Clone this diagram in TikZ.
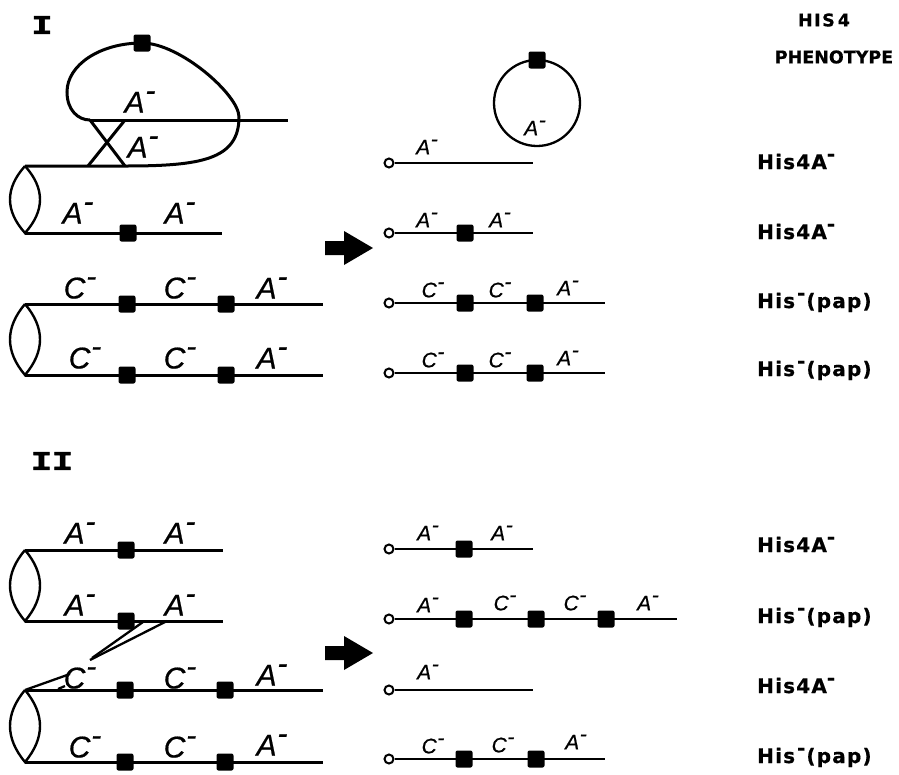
\documentclass[tikz,border=0pt]{standalone}
\usepackage{fontspec}
\setmainfont{Liberation Sans}
\newfontfamily\numfont[FakeBold=1.5]{Liberation Mono Bold}
\newfontfamily\genefont[FakeBold=0.6]{Liberation Sans Italic}
\newfontfamily\phenfont[LetterSpace=6,FakeBold=0.6]{DejaVu Sans Bold}
\newfontfamily\headfont[FakeBold=0.6]{DejaVu Sans Bold}
% allele label with a raised minus sign
\newcommand\mut[1]{#1\kern0.03em\raisebox{0.40em}{-}}
% raised minus used in the phenotype column
\newcommand\phmin{\raisebox{0.40em}{-}}
% lens-shaped centromere joining two sister chromatids
\newcommand\centro[2]{%
  \draw[lens] (25,#1) .. controls (5,{#1+(#2-#1)/3}) and (5,{#2-(#2-#1)/3}) .. (25,#2)
    .. controls (45,{#2-(#2-#1)/3}) and (45,{#1+(#2-#1)/3}) .. (25,#1);}
% thick block arrow pointing right, centred vertically on #1
\newcommand\blockarrow[1]{%
  \fill (325,{#1-7}) -- (344,{#1-7}) -- (344,{#1-17}) -- (373,#1) -- (344,{#1+17})
    -- (344,{#1+7}) -- (325,{#1+7}) -- cycle;}

\begin{document}
\begin{tikzpicture}[x=1pt,y=-1pt,
  chrom/.style={line width=3pt},
  rchrom/.style={line width=2.3pt},
  lens/.style={line width=2.4pt},
  blk/.style={fill=black, minimum size=17pt, inner sep=0pt, rounded corners=2pt},
  endo/.style={circle, draw, line width=2pt, fill=white, minimum size=9pt, inner sep=0pt},
  glab/.style={font=\fontsize{30}{32}\selectfont\genefont, inner sep=0pt},
  glabs/.style={font=\fontsize{21}{23}\selectfont\genefont, inner sep=0pt},
  phen/.style={font=\fontsize{20}{22}\selectfont\phenfont, anchor=base west, inner sep=0pt},
  head/.style={font=\fontsize{17.5}{20}\selectfont\headfont, inner sep=0pt},
  roman/.style={font=\fontsize{27}{29}\selectfont\numfont, inner sep=0pt}]

\useasboundingbox (0,0) rectangle (899,774);

% ---------------- Part I ----------------
\node[roman] (numI) at (42,25) {\scalebox{1.3}[1]{I}};

% looped chromatid with the crossover
\draw[chrom] (90,120) -- (288,120);
\draw[chrom] (90,120) -- (125,166);
\draw[chrom] (125,120) -- (88,166);
\draw[chrom] (25,166) -- (125,166) .. controls (200,166) and (239,160) .. (239,117)
  .. controls (239,95) and (180,43) .. (142,43)
  .. controls (100,43) and (67,65) .. (67,92)
  .. controls (67,110) and (78,120) .. (90,120);
\node[blk] (lsq) at (142,43) {};
\node[glab] (la1) at (140,102) {\mut{A}};
\node[glab] (la2) at (143,147) {\mut{A}};

% first chromatid pair
\centro{166}{233}
\draw[chrom] (25,233) -- (222,233);
\node[blk] (s1) at (128,233) {};
\node[glab] (a1) at (78,213) {\mut{A}};
\node[glab] (a2) at (180,213) {\mut{A}};

% second chromatid pair
\centro{304}{375}
\draw[chrom] (25,304) -- (323,304);
\draw[chrom] (25,375) -- (323,375);
\node[blk] (s2) at (127,304) {};
\node[blk] (s3) at (226,304) {};
\node[blk] (s4) at (127,375) {};
\node[blk] (s5) at (226,375) {};
\node[glab] (c1) at (80,288) {\mut{C}};
\node[glab] (c2) at (180,288) {\mut{C}};
\node[glab] (a3) at (272,288) {\mut{A}};
\node[glab] (c3) at (85,358) {\mut{C}};
\node[glab] (c4) at (180,358) {\mut{C}};
\node[glab] (a4) at (272,358) {\mut{A}};

\blockarrow{248}

% products of part I
\draw[rchrom] (537,103) circle (43);
\node[blk] (rsq) at (537,60) {};
\node[glabs] (ra0) at (535,128) {\mut{A}};

\node[endo] (e1) at (389,163) {};
\coordinate (e1r) at (533,163);
\draw[rchrom] (e1) -- (e1r);
\node[glabs] (ra1) at (427,147) {\mut{A}};

\node[endo] (e2) at (389,233) {};
\coordinate (e2r) at (533,233);
\draw[rchrom] (e2) -- (e2r);
\node[blk] (t1) at (465,233) {};
\node[glabs] (ra2) at (427,220) {\mut{A}};
\node[glabs] (ra3) at (500,220) {\mut{A}};

\node[endo] (e3) at (389,303) {};
\coordinate (e3r) at (605,303);
\draw[rchrom] (e3) -- (e3r);
\node[blk] (t2) at (465,303) {};
\node[blk] (t3) at (535,303) {};
\node[glabs] (rc1) at (433,290) {\mut{C}};
\node[glabs] (rc2) at (500,290) {\mut{C}};
\node[glabs] (ra4) at (568,288) {\mut{A}};

\node[endo] (e4) at (389,373) {};
\coordinate (e4r) at (605,373);
\draw[rchrom] (e4) -- (e4r);
\node[blk] (t4) at (465,373) {};
\node[blk] (t5) at (535,373) {};
\node[glabs] (rc3) at (433,360) {\mut{C}};
\node[glabs] (rc4) at (500,360) {\mut{C}};
\node[glabs] (ra5) at (568,358) {\mut{A}};

% phenotype column
\node[head] (h1) at (824,20) {H\kern1.5pt I\kern1.5pt S\kern3pt 4};
\node[head] (h2) at (834,57) {PHENOTYPE};
\node[phen] (p1) at (757,169) {His4A\phmin};
\node[phen] (p2) at (757,239) {His4A\phmin};
\node[phen] (p3) at (757,308) {His\kern2pt\phmin\kern1pt(pap)};
\node[phen] (p4) at (757,376) {His\kern2pt\phmin\kern1pt(pap)};

% ---------------- Part II ----------------
\node[roman] (numII) at (52,461) {\scalebox{1.3}[1]{II}};

\centro{550}{621}
\draw[chrom] (25,550) -- (223,550);
\draw[chrom] (25,621) -- (223,621);
\node[blk] (u1) at (126,550) {};
\node[blk] (u2) at (126,621) {};
\node[glab] (b1) at (80,533) {\mut{A}};
\node[glab] (b2) at (180,533) {\mut{A}};
\node[glab] (b3) at (80,605) {\mut{A}};
\node[glab] (b4) at (180,605) {\mut{A}};

\centro{690}{762}
\draw[chrom] (25,690) -- (323,690);
\draw[chrom] (25,762) -- (323,762);
\node[blk] (u3) at (125,690) {};
\node[blk] (u4) at (225,690) {};
\node[blk] (u5) at (125,762) {};
\node[blk] (u6) at (225,762) {};
\node[glab] (d1) at (80,678) {\mut{C}};
\node[glab] (d2) at (180,678) {\mut{C}};
\node[glab] (d3) at (272,675) {\mut{A}};
\node[glab] (d4) at (85,747) {\mut{C}};
\node[glab] (d5) at (180,747) {\mut{C}};
\node[glab] (d6) at (272,745) {\mut{A}};

% exchange between non-sister chromatids
\draw[rchrom] (25,690) -- (70,674);
\draw[rchrom] (167,621) -- (90,660);
\draw[rchrom] (143,622) -- (92,658);
\draw[rchrom] (58,689) -- (65,686);

\blockarrow{653}

% products of part II
\node[endo] (f1) at (389,549) {};
\coordinate (f1r) at (533,549);
\draw[rchrom] (f1) -- (f1r);
\node[blk] (v1) at (464,549) {};
\node[glabs] (q1) at (428,533) {\mut{A}};
\node[glabs] (q2) at (502,533) {\mut{A}};

\node[endo] (f2) at (389,619) {};
\coordinate (f2r) at (677,619);
\draw[rchrom] (f2) -- (f2r);
\node[blk] (v2) at (464,619) {};
\node[blk] (v3) at (536,619) {};
\node[blk] (v4) at (606,619) {};
\node[glabs] (q3) at (428,605) {\mut{A}};
\node[glabs] (q4) at (505,603) {\mut{C}};
\node[glabs] (q5) at (575,603) {\mut{C}};
\node[glabs] (q6) at (648,603) {\mut{A}};

\node[endo] (f3) at (389,690) {};
\coordinate (f3r) at (533,690);
\draw[rchrom] (f3) -- (f3r);
\node[glabs] (q7) at (428,672) {\mut{A}};

\node[endo] (f4) at (389,759) {};
\coordinate (f4r) at (605,759);
\draw[rchrom] (f4) -- (f4r);
\node[blk] (v5) at (464,759) {};
\node[blk] (v6) at (536,759) {};
\node[glabs] (q8) at (433,746) {\mut{C}};
\node[glabs] (q9) at (503,745) {\mut{C}};
\node[glabs] (q10) at (576,742) {\mut{A}};

\node[phen] (p5) at (757,552) {His4A\phmin};
\node[phen] (p6) at (757,623) {His\kern2pt\phmin\kern1pt(pap)};
\node[phen] (p7) at (757,693) {His4A\phmin};
\node[phen] (p8) at (757,763) {His\kern2pt\phmin\kern1pt(pap)};

\end{tikzpicture}
\end{document}
